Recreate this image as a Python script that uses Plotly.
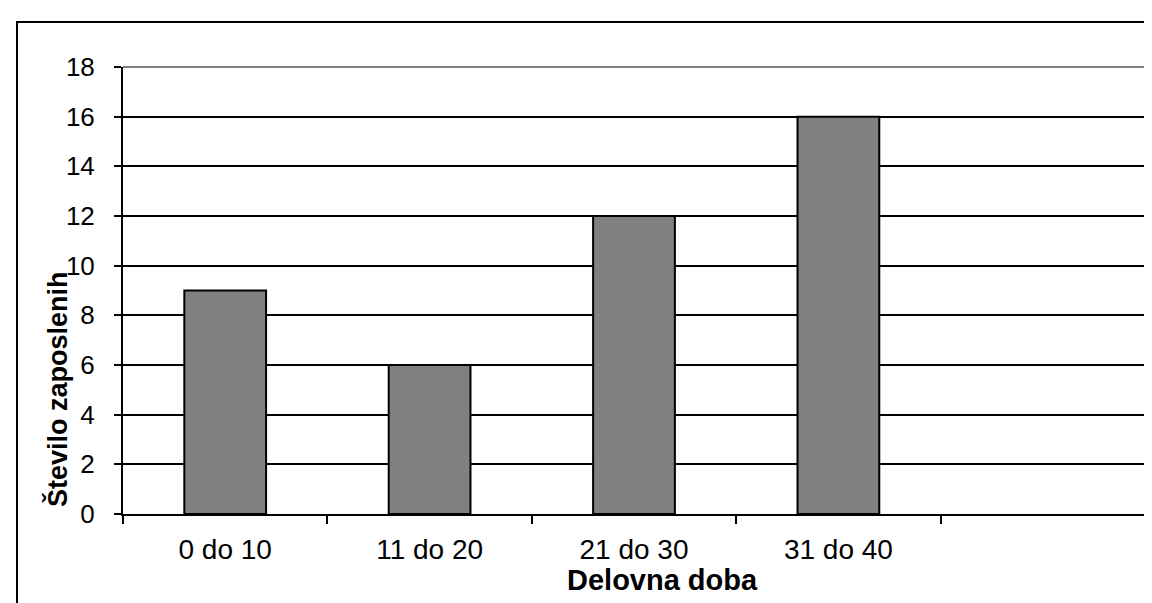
import plotly.graph_objects as go

categories = ["0 do 10", "11 do 20", "21 do 30", "31 do 40", " "]
values = [9, 6, 12, 16]
y_ticks = [0, 2, 4, 6, 8, 10, 12, 14, 16, 18]
x_title = "Delovna doba"
y_title = "Število zaposlenih"

W, H = 1152, 603
L, R, T, B = 115, 1137, 59, 506  # plot area pixels


def px(x):
    return (x - L) / (R - L)


def py(y):
    return (B - y) / (B - T)


fig = go.Figure()
fig.add_trace(go.Bar(
    x=categories[:len(values)], y=values, width=0.4,
    marker=dict(color="#808080", line=dict(color="black", width=2)),
))

font = "Liberation Sans, Arial, sans-serif"
fig.update_layout(
    width=W, height=H,
    margin=dict(l=L, r=W - R, t=T, b=H - B, pad=0),
    paper_bgcolor="white", plot_bgcolor="white",
    showlegend=False,
    font=dict(family=font, color="black"),
    xaxis=dict(
        type="category", categoryorder="array", categoryarray=categories,
        range=[-0.5, len(categories) - 0.5], tickson="boundaries",
        showline=True, linecolor="black", linewidth=2,
        ticks="outside", ticklen=8, tickwidth=2, tickcolor="black",
        showgrid=False, tickfont=dict(size=28, family=font, color="black"),
        ticklabelstandoff=9,
    ),
    yaxis=dict(
        range=[0, 18], tickvals=y_ticks,
        showline=True, linecolor="black", linewidth=2,
        ticks="outside", ticklen=7, tickwidth=2, tickcolor="black",
        showgrid=True, gridcolor="black", gridwidth=1.5, zeroline=False,
        tickfont=dict(size=26, family=font, color="black"),
        ticklabelstandoff=14,
    ),
    shapes=[
        # plot area top and right border (gray)
        dict(type="line", xref="paper", yref="paper", x0=0, x1=1, y0=1, y1=1,
             line=dict(color="#808080", width=2), layer="above"),
        dict(type="line", xref="paper", yref="paper", x0=1, x1=1, y0=0, y1=1,
             line=dict(color="#808080", width=2), layer="above"),
        # outer chart border
        dict(type="rect", xref="paper", yref="paper",
             x0=px(9), x1=px(1165), y0=py(14), y1=py(620),
             line=dict(color="black", width=2), fillcolor="rgba(0,0,0,0)",
             layer="above"),
    ],
    annotations=[
        dict(text="<b>%s</b>" % x_title, xref="paper", yref="paper",
             x=px(654), y=py(572), xanchor="center", yanchor="middle",
             showarrow=False, font=dict(size=29, family=font, color="black")),
        dict(text="<b>%s</b>" % y_title, xref="paper", yref="paper",
             x=px(49), y=py(381), xanchor="center", yanchor="middle",
             textangle=-90, showarrow=False,
             font=dict(size=27, family=font, color="black")),
    ],
)

fig.write_html("out.html")
